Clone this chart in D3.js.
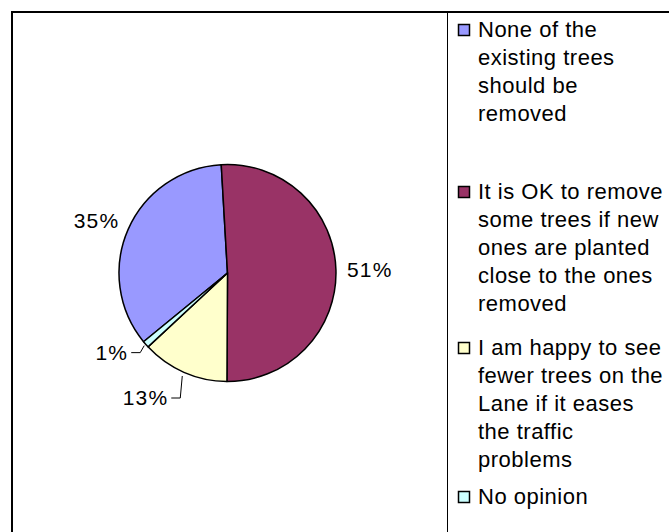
<!DOCTYPE html>
<html>
<head>
<meta charset="utf-8">
<script src="https://cdn.jsdelivr.net/npm/d3@7"></script>
<style>
  body { margin: 0; background: #fff; }
  text { font-family: "Liberation Sans", Arial, sans-serif; fill: #000; }
</style>
</head>
<body>
<div id="chart"></div>
<script>
// data
const categories = [
  "None of the existing trees should be removed",
  "It is OK to remove some trees if new ones are planted close to the ones removed",
  "I am happy to see fewer trees on the Lane if it eases the traffic problems",
  "No opinion"
];
const legendLines = [
  ["None of the", "existing trees", "should be", "removed"],
  ["It is OK to remove", "some trees if new", "ones are planted", "close to the ones", "removed"],
  ["I am happy to see", "fewer trees on the", "Lane if it eases", "the traffic", "problems"],
  ["No opinion"]
];
const values = [35, 51, 13, 1];
const valueLabels = ["35%", "51%", "13%", "1%"];

const colors = ["#9999FF", "#993366", "#FFFFCC", "#CCFFFF"];

const width = 669, height = 532;
const cx = 227.5, cy = 273, radius = 108.5;

const svg = d3.select('#chart').append('svg')
    .attr('width', width)
    .attr('height', height);

// outer frame + legend divider
svg.append('rect')
    .attr('x', 12).attr('y', 12)
    .attr('width', 700).attr('height', 560)
    .attr('fill', 'none')
    .attr('stroke', '#000')
    .attr('stroke-width', 2);

svg.append('line')
    .attr('x1', 447.5).attr('x2', 447.5)
    .attr('y1', 12).attr('y2', height)
    .attr('stroke', '#000')
    .attr('stroke-width', 1);

// pie
const a0 = 230.7 * Math.PI / 180;
const pie = d3.pie().sort(null).value(d => d)
    .startAngle(a0).endAngle(a0 + 2 * Math.PI);
const arcs = pie(values);

const arc = d3.arc().innerRadius(0).outerRadius(radius);

const g = svg.append('g')
    .attr('transform', 'translate(' + cx + ',' + cy + ')');

g.selectAll('path.slice')
    .data(arcs)
    .join('path')
    .attr('class', 'slice')
    .attr('d', arc)
    .attr('fill', (d, i) => colors[i])
    .attr('stroke', '#000')
    .attr('stroke-width', 1.5)
    .attr('stroke-linejoin', 'round');

// labels: plain ones sit just outside, small slices get a leader line
const placement = [
  {off: 14, nudge: [4, -3]},
  {off: 14, nudge: [-3, 0]},
  {off: 4, leader: [-2, 22]},
  {off: 2, leader: [-4, 7]}
];

const pt = (a, r) => [r * Math.sin(a), -r * Math.cos(a)];

arcs.forEach((d, i) => {
  const mid = (d.startAngle + d.endAngle) / 2;
  const p = placement[i];
  const [x, y] = pt(mid, radius + p.off);
  const right = Math.sin(mid) > 0;
  let tx = x, ty = y;
  if (p.leader) {
    const ex = x + p.leader[0], ey = y + p.leader[1];
    const hx = ex + (right ? 9 : -9);
    g.append('path')
        .attr('d', d3.line()([[x, y], [ex, ey], [hx, ey]]))
        .attr('fill', 'none')
        .attr('stroke', '#000')
        .attr('stroke-width', 1);
    tx = hx + (right ? 3 : -3);
    ty = ey;
  }
  if (p.nudge) { tx += p.nudge[0]; ty += p.nudge[1]; }
  g.append('text')
      .attr('x', tx)
      .attr('y', ty)
      .attr('dy', '0.35em')
      .attr('text-anchor', right ? 'start' : 'end')
      .style('font-size', '21px')
      .style('letter-spacing', '1.2px')
      .text(valueLabels[i]);
});

// legend
const lineH = 28;
const itemTop = [37, 199, 355, 504];
const legend = svg.append('g');

legendLines.forEach((lines, i) => {
  const item = legend.append('g');
  item.append('rect')
      .attr('x', 458.5).attr('y', itemTop[i] - 12.5)
      .attr('width', 11).attr('height', 11)
      .attr('fill', colors[i])
      .attr('stroke', '#000')
      .attr('stroke-width', 1.5);
  item.append('title').text(categories[i]);
  lines.forEach((ln, j) => {
    item.append('text')
        .attr('x', 478)
        .attr('y', itemTop[i] + j * lineH)
        .style('font-size', '22px')
        .style('letter-spacing', '0.5px')
        .text(ln);
  });
});
</script>
</body>
</html>
